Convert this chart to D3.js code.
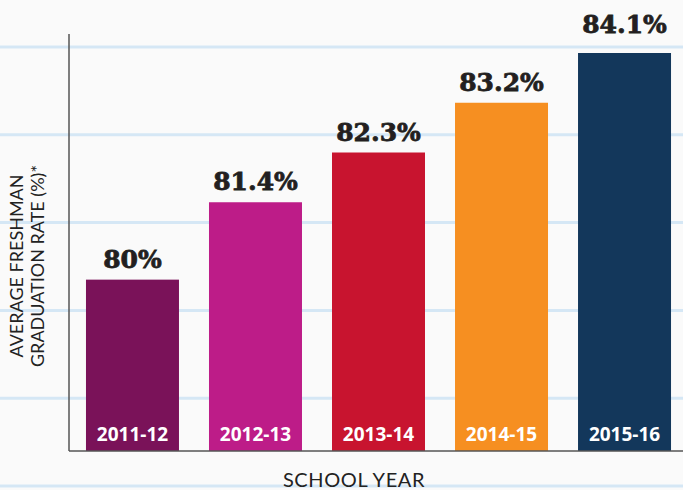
<!DOCTYPE html>
<html>
<head>
<meta charset="utf-8">
<script src="https://cdn.jsdelivr.net/npm/d3@7"></script>
<style>
  body { margin: 0; background: #fafafa; }
</style>
</head>
<body>
<div id="chart"></div>
<script>
const years = ["2011-12", "2012-13", "2013-14", "2014-15", "2015-16"];
const rates = [80, 81.4, 82.3, 83.2, 84.1];
const barColors = ["#7a1259", "#bd1c88", "#c8142f", "#f68f21", "#13375b"];
const rateLabels = ["80%", "81.4%", "82.3%", "83.2%", "84.1%"];

const width = 683, height = 490;
const margin = { left: 69, top: 53, right: -5, bottom: 39 };
const innerW = width - margin.left - margin.right;
const innerH = height - margin.top - margin.bottom;

const svg = d3.select("#chart").append("svg")
    .attr("width", width)
    .attr("height", height);

svg.append("rect")
    .attr("width", width)
    .attr("height", height)
    .attr("fill", "#fafafa");

// notebook style lines behind everything
const ruleY = d3.range(47, height, 87.8);
svg.selectAll("line.rule")
    .data(ruleY)
  .enter().append("line")
    .attr("class", "rule")
    .attr("x1", 0).attr("x2", width)
    .attr("y1", d => d).attr("y2", d => d)
    .attr("stroke", "#d5e7f5")
    .attr("stroke-width", 3);

const x = d3.scaleBand()
    .domain(years)
    .range([0, innerW])
    .paddingInner(0.244)
    .paddingOuter(0.138);

const y = d3.scaleLinear()
    .domain([76.9, 84.1])
    .range([innerH, 0]);

const g = svg.append("g")
    .attr("transform", "translate(" + margin.left + "," + margin.top + ")");

g.selectAll("rect.bar")
    .data(years)
  .enter().append("rect")
    .attr("class", "bar")
    .attr("x", d => x(d))
    .attr("y", (d, i) => y(rates[i]))
    .attr("width", x.bandwidth())
    .attr("height", (d, i) => innerH - y(rates[i]))
    .attr("fill", (d, i) => barColors[i]);

g.selectAll("text.val")
    .data(years)
  .enter().append("text")
    .attr("class", "val")
    .attr("x", d => x(d) + x.bandwidth() / 2)
    .attr("y", (d, i) => y(rates[i]) - (i === 4 ? 20 : 12))
    .attr("text-anchor", "middle")
    .style("font-family", "'DejaVu Serif', serif")
    .style("font-weight", "bold")
    .style("font-size", "25px")
    .attr("fill", "#231f20")
    .attr("stroke", "#231f20")
    .attr("stroke-width", 0.8)
    .text((d, i) => rateLabels[i]);

g.selectAll("text.cat")
    .data(years)
  .enter().append("text")
    .attr("class", "cat")
    .attr("x", d => x(d) + x.bandwidth() / 2)
    .attr("y", innerH - 10)
    .attr("text-anchor", "middle")
    .style("font-family", "'Open Sans', sans-serif")
    .style("font-weight", "bold")
    .style("font-size", "19px")
    .attr("fill", "#ffffff")
    .text(d => d);

// axes lines
g.append("line")
    .attr("x1", 0).attr("x2", 0)
    .attr("y1", -19).attr("y2", innerH)
    .attr("stroke", "#555")
    .attr("stroke-width", 1.5);
g.append("line")
    .attr("x1", 0).attr("x2", innerW)
    .attr("y1", innerH).attr("y2", innerH)
    .attr("stroke", "#555")
    .attr("stroke-width", 1.5);

svg.append("text")
    .attr("x", 354)
    .attr("y", 487)
    .attr("text-anchor", "middle")
    .style("font-family", "Lato, sans-serif")
    .style("font-size", "20px")
    .style("letter-spacing", "0.6px")
    .attr("fill", "#222")
    .text("SCHOOL YEAR");

const yt = svg.append("text")
    .attr("transform", "translate(0,266) rotate(-90)")
    .attr("text-anchor", "middle")
    .style("font-family", "Lato, sans-serif")
    .style("font-size", "18px")
    .attr("fill", "#222");
yt.append("tspan").attr("x", 0).attr("y", 23).text("AVERAGE FRESHMAN");
yt.append("tspan").attr("x", 0).attr("y", 44).text("GRADUATION RATE (%)*");
</script>
</body>
</html>
